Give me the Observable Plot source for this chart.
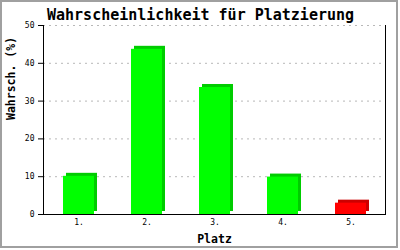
<!DOCTYPE html>
<html>
<head>
<meta charset="utf-8">
<script src="https://cdn.jsdelivr.net/npm/d3@7"></script>
<script src="https://cdn.jsdelivr.net/npm/@observablehq/plot@0.6"></script>
<style>
  html, body { margin: 0; padding: 0; background: #fff; }
  #wrap { position: relative; width: 400px; height: 250px; }
  #border { position: absolute; left: 0; top: 0; width: 398px; height: 248px; box-sizing: border-box; border: 2px solid #a0a0a0; pointer-events: none; }
  svg { display: block; }
</style>
</head>
<body>
<div id="wrap"><div id="border"></div></div>
<script>
const places = ["1.", "2.", "3.", "4.", "5."];
const values = [10.1, 43.7, 33.6, 9.9, 3.0];
const highlight = [false, false, false, false, true];
const yTicks = [0, 10, 20, 30, 40, 50];
const title = "Wahrscheinlichkeit für Platzierung";
const xLabel = "Platz";
const yLabel = "Wahrsch. (%)";

const data = places.map((p, i) => ({place: p, value: values[i], hi: highlight[i]}));
const font = "DejaVu Sans Mono, Liberation Mono, monospace";

const chart = Plot.plot({
  width: 400,
  height: 250,
  marginLeft: 43,
  marginRight: 15,
  marginTop: 25,
  marginBottom: 36,
  style: {fontFamily: font, background: "transparent", overflow: "visible"},
  x: {domain: places, paddingInner: 0.55, paddingOuter: 0.27, label: null},
  y: {domain: [0, 50], label: null},
  marks: [
    Plot.gridY(yTicks.filter(d => d > 0), {stroke: "#b8b8b8", strokeOpacity: 1, strokeDasharray: "2,4"}),
    Plot.barY(data, {x: "place", y: "value", fill: d => d.hi ? "#cc0000" : "#00cc00", dx: 3, dy: -3}),
    Plot.barY(data, {x: "place", y: "value", fill: d => d.hi ? "#ff0000" : "#00ff00"}),
    Plot.axisY({ticks: yTicks, tickSize: 5, tickPadding: 4, fontSize: 8, label: null, stroke: "#000"}),
    Plot.axisX({tickSize: 0, tickPadding: 5, fontSize: 8, label: null}),
    Plot.frame({anchor: "left", stroke: "#000"}),
    Plot.frame({anchor: "right", stroke: "#000"}),
    Plot.frame({anchor: "bottom", stroke: "#000"}),
    Plot.text([title], {frameAnchor: "top", lineAnchor: "middle", dx: -14, dy: -10.5, fontSize: 15, fontWeight: "bold", fill: "#000"}),
    Plot.text([xLabel], {frameAnchor: "bottom", lineAnchor: "middle", dy: 25, fontSize: 11.5, fontWeight: "bold", fill: "#000"}),
    Plot.text([yLabel], {frameAnchor: "left", lineAnchor: "middle", dx: -32, rotate: -90, fontSize: 11.5, fontWeight: "bold", fill: "#000"})
  ]
});
document.getElementById("wrap").prepend(chart);
</script>
</body>
</html>
